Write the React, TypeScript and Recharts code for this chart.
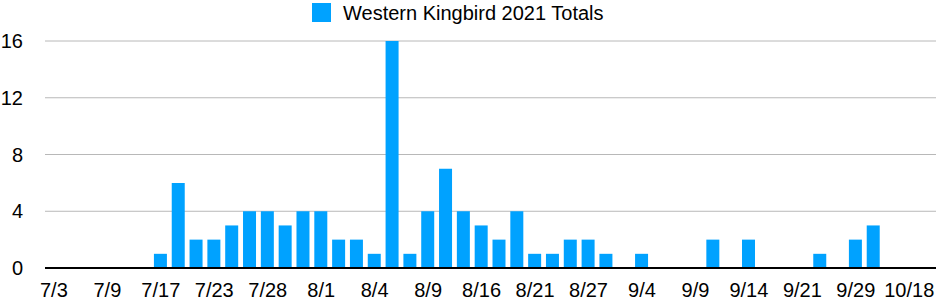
import React from 'react';
import { BarChart, Bar, XAxis, YAxis, CartesianGrid, Legend } from 'recharts';

const dates = [
  '7/3', '7/5', '7/7', '7/9', '7/11', '7/14', '7/17', '7/19', '7/20', '7/23',
  '7/25', '7/26', '7/28', '7/29', '7/30', '8/1', '8/2', '8/3', '8/4', '8/5',
  '8/7', '8/9', '8/11', '8/13', '8/16', '8/17', '8/19', '8/21', '8/23', '8/25',
  '8/27', '8/29', '9/1', '9/4', '9/5', '9/6', '9/9', '9/11', '9/12', '9/14',
  '9/16', '9/18', '9/21', '9/23', '9/26', '9/29', '10/2', '10/9', '10/18', '10/24',
];

const totals = [
  0, 0, 0, 0, 0, 0, 1, 6, 2, 2,
  3, 4, 4, 3, 4, 4, 2, 2, 1, 16,
  1, 4, 7, 4, 3, 2, 4, 1, 1, 2,
  2, 1, 0, 1, 0, 0, 0, 2, 0, 2,
  0, 0, 0, 1, 0, 2, 3, 0, 0, 0,
];

const yTicks = [0, 4, 8, 12, 16];

const seriesName = 'Western Kingbird 2021 Totals';
const blue = '#00a2ff';
const font = '"Liberation Sans", Arial, Helvetica, sans-serif';

const data = dates.map((d, i) => ({ date: d, total: totals[i] }));

const renderLegend = () => (
  <div style={{ height: 24, position: 'relative', fontFamily: font }}>
    <div
      style={{
        position: 'absolute',
        left: 312,
        top: 3,
        width: 19,
        height: 19,
        background: blue,
      }}
    />
    <div
      style={{
        position: 'absolute',
        left: 343,
        top: 1,
        fontSize: 20,
        lineHeight: '24px',
        color: '#000',
        whiteSpace: 'nowrap',
      }}
    >
      {seriesName}
    </div>
  </div>
);

export default function App() {
  return (
    <div style={{ position: 'absolute', left: 0, top: 0, fontFamily: font }}>
      <BarChart
        width={936}
        height={302}
        data={data}
        margin={{ top: 17, right: 0, bottom: 0, left: 0 }}
      >
        <Legend
          verticalAlign="top"
          align="left"
          content={renderLegend}
          wrapperStyle={{ left: 0, top: 0, width: 936 }}
        />
        <CartesianGrid vertical={false} stroke="#b8b8b8" strokeWidth={1} />
        <XAxis
          dataKey="date"
          interval={2}
          height={34}
          tickLine={false}
          tickSize={0}
          tickMargin={15}
          axisLine={{ stroke: '#000', strokeWidth: 2 }}
          tick={{ fill: '#000', fontSize: 20, fontFamily: font }}
        />
        <YAxis
          domain={[0, 16]}
          ticks={yTicks}
          width={45}
          axisLine={false}
          tickLine={false}
          tickSize={0}
          tickMargin={22}
          tick={{ fill: '#000', fontSize: 20, fontFamily: font }}
        />
        <Bar dataKey="total" name={seriesName} fill={blue} barSize={13} isAnimationActive={false} />
      </BarChart>
    </div>
  );
}
